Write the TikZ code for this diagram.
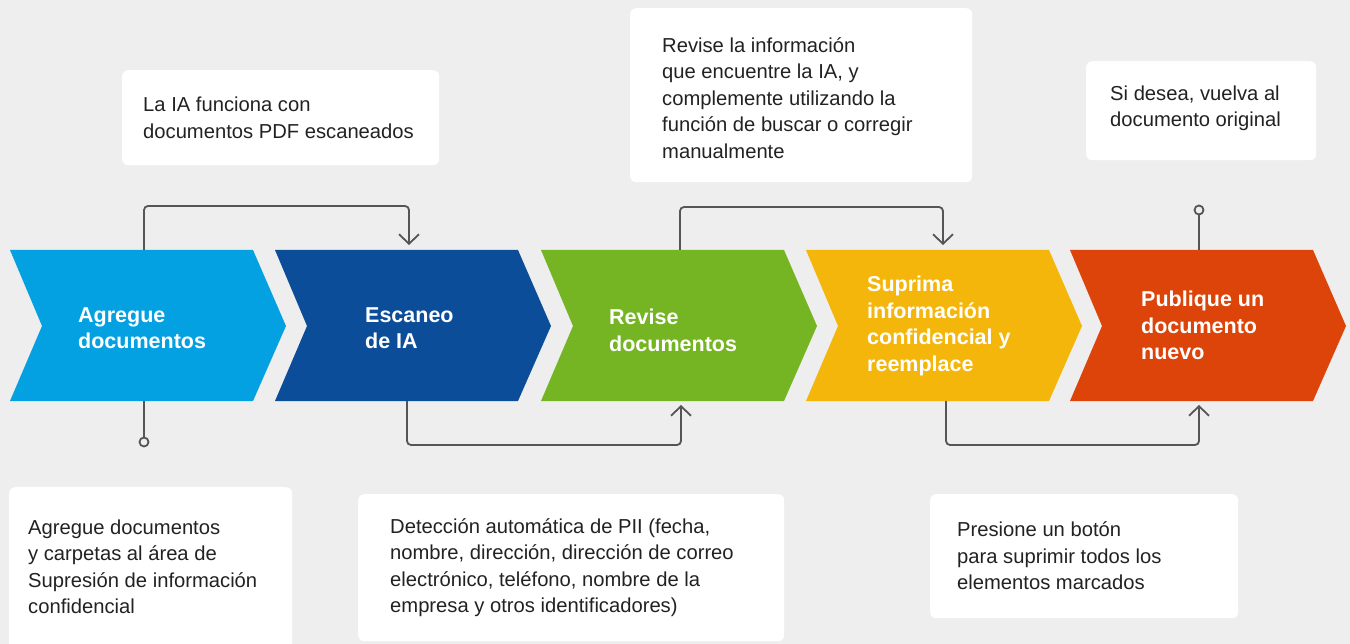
\documentclass[tikz,border=0pt]{standalone}
\usepackage{fontspec}
\setmainfont{Liberation Sans}
\usetikzlibrary{arrows.meta}
\definecolor{bg}{HTML}{EEEEEE}
\definecolor{cA}{HTML}{03A1E1}
\definecolor{cB}{HTML}{0C4D9A}
\definecolor{cC}{HTML}{75B524}
\definecolor{cD}{HTML}{F5B60B}
\definecolor{cE}{HTML}{DC4409}
\definecolor{lin}{HTML}{555555}
\definecolor{txt}{HTML}{222222}
\tikzset{
  chevtext/.style={anchor=west, align=left, text=white, font=\fontsize{21.5}{26.5}\selectfont\bfseries, inner sep=0pt},
  card/.style={fill=white, rounded corners=6pt, draw=none, inner sep=0pt, anchor=north west},
  cardtext/.style={anchor=west, align=left, text=txt, font=\fontsize{20.2}{26.5}\selectfont, inner sep=0pt},
  conn/.style={draw=lin, line width=1.8pt, rounded corners=4pt},
  arr/.style={-{Straight Barb[length=9.5pt,width=20pt,line width=1.8pt]}},
  dot/.style={circle, draw=lin, line width=1.8pt, fill=bg, minimum size=9pt, inner sep=0pt},
}
\newcommand{\chev}[3]{%
  \fill[#2] (#1,250) -- ++(243,0) -- ++(33,76) -- ++(-33,75) -- ++(-243,0) -- ++(32,-75) -- cycle;
  \coordinate (#3) at (#1,250);}
\begin{document}
\begin{tikzpicture}[x=1pt,y=-1pt]
\fill[bg] (0,0) rectangle (1350,644);
\useasboundingbox (0,0) rectangle (1350,644);
\clip (0,0) rectangle (1350,644);

% chevrons
\chev{10}{cA}{k1}
\chev{275}{cB}{k2}
\chev{541}{cC}{k3}
\chev{806}{cD}{k4}
\chev{1070}{cE}{k5}

\node[chevtext] (t1) at (78,328) {Agregue\\documentos};
\node[chevtext] (t2) at (365,328) {Escaneo\\de IA};
\node[chevtext] (t3) at (609,330.5) {Revise\\documentos};
\node[chevtext] (t4) at (867,326) {Suprima\\información\\confidencial y\\reemplace};
\node[chevtext] (t5) at (1141,325.5) {Publique un\\documento\\nuevo};

% anchor points on chevron edges
\coordinate (a1t) at (144,250);
\coordinate (a1b) at (144,401);
\coordinate (a2t) at (409,245);
\coordinate (a2b) at (407,401);
\coordinate (a3t) at (680,250);
\coordinate (a3b) at (681,405);
\coordinate (a4t) at (943,245);
\coordinate (a4b) at (946,401);
\coordinate (a5t) at (1199,250);
\coordinate (a5b) at (1199,405);

% connectors
\draw[conn, arr] (a1t) |- (276,206) -| (a2t);
\draw[conn, arr] (a3t) |- (810,207) -| (a4t);
\draw[conn, arr] (a2b) |- (540,445) -| (a3b);
\draw[conn, arr] (a4b) |- (1070,445) -| (a5b);
\node[dot] (d1) at (144,442) {};
\node[dot] (d5) at (1199,210) {};
\draw[conn] (a1b) -- (d1);
\draw[conn] (a5t) -- (d5);

% cards
\node[card, minimum width=317pt, minimum height=95pt] (b1) at (122,70) {};
\node[cardtext] (b1t) at ([xshift=21pt,yshift=0pt]b1.west) {La IA funciona con\\documentos PDF escaneados};

\node[card, minimum width=342pt, minimum height=174pt] (b2) at (630,8) {};
\node[cardtext] (b2t) at ([xshift=32pt,yshift=-2.5pt]b2.west) {Revise la información\\que encuentre la IA, y\\complemente utilizando la\\función de buscar o corregir\\manualmente};

\node[card, minimum width=230pt, minimum height=99pt] (b3) at (1086,61) {};
\node[cardtext] (b3t) at ([xshift=24pt,yshift=2.5pt]b3.west) {Si desea, vuelva al\\documento original};

\node[card, minimum width=283pt, minimum height=180pt] (b4) at (9,487) {};
\node[cardtext] (b4t) at (28,567) {Agregue documentos\\y carpetas al área de\\Supresión de información\\confidencial};

\node[card, minimum width=426pt, minimum height=147pt] (b5) at (358,494) {};
\node[cardtext] (b5t) at (390,567.5) {Detección automática de PII (fecha,\\nombre, dirección, dirección de correo\\electrónico, teléfono, nombre de la\\empresa y otros identificadores)};

\node[card, minimum width=308pt, minimum height=124pt] (b6) at (930,494) {};
\node[cardtext] (b6t) at (957,556) {Presione un botón\\para suprimir todos los\\elementos marcados};
\end{tikzpicture}
\end{document}
